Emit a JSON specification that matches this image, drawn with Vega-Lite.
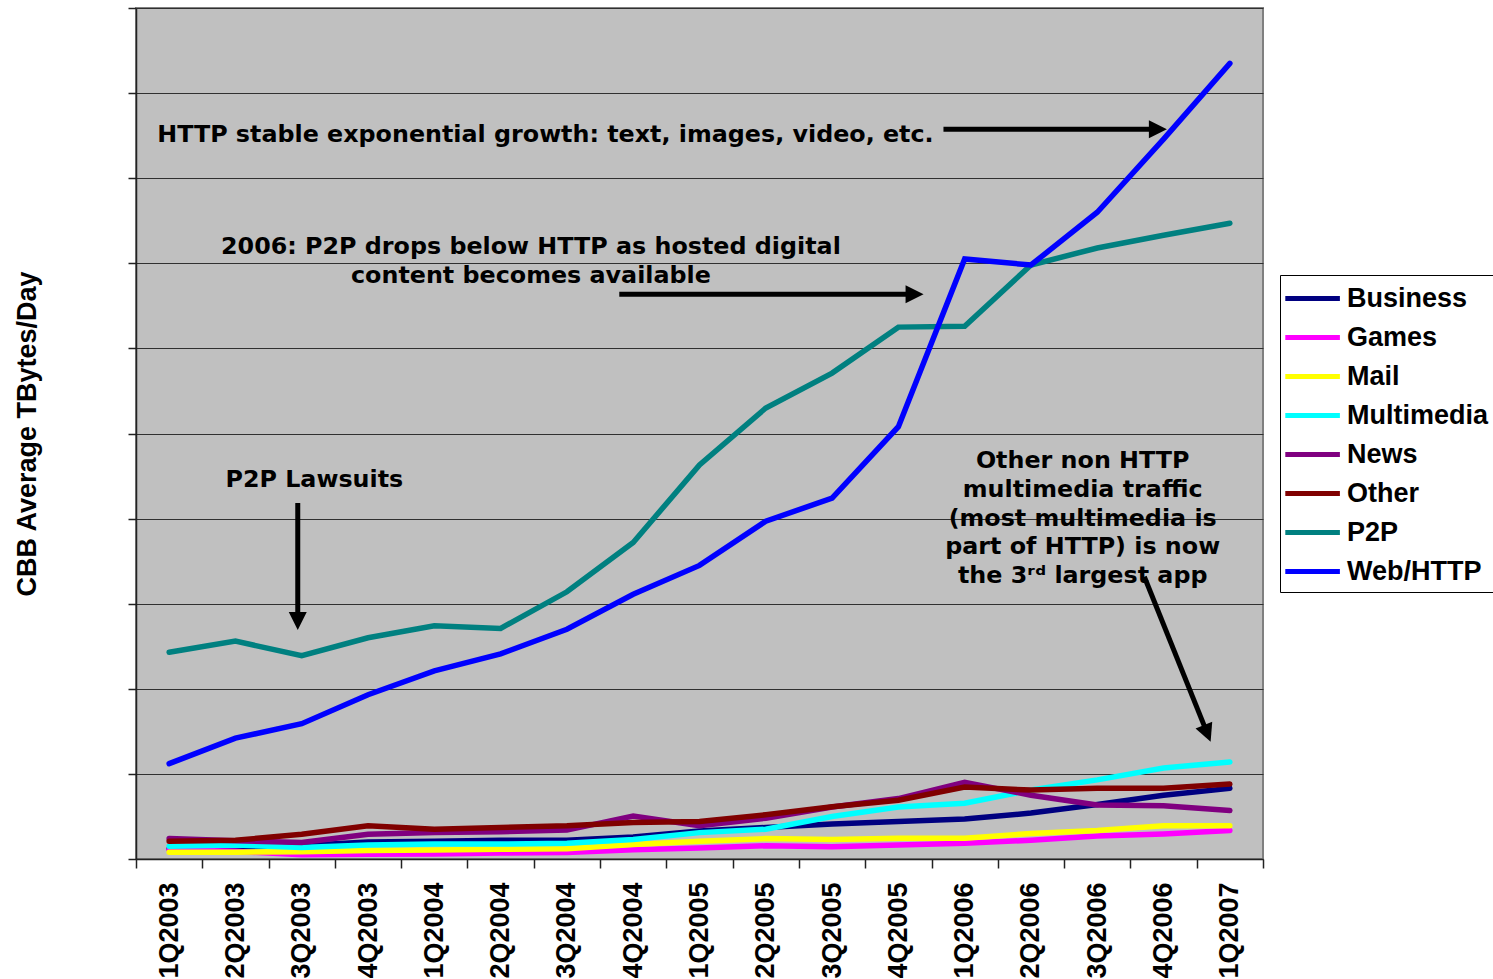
{
  "$schema": "https://vega.github.io/schema/vega-lite/v6.json",
  "width": 1127,
  "height": 851,
  "autosize": {"type": "none"},
  "padding": {"left": 136, "top": 8, "right": 230, "bottom": 120},
  "background": "white",
  "config": {
    "view": {"fill": "#C0C0C0", "stroke": "#808080", "strokeWidth": 2},
    "axis": {"domainColor": "#222222", "domainWidth": 1.5, "tickColor": "#222222", "tickWidth": 1.5, "gridColor": "#303030", "gridWidth": 1}
  },
  "datasets": {
    "traffic": [
      {"quarter": "1Q2003", "t": 0, "app": "Business", "tb": 0.12},
      {"quarter": "2Q2003", "t": 1, "app": "Business", "tb": 0.14},
      {"quarter": "3Q2003", "t": 2, "app": "Business", "tb": 0.16},
      {"quarter": "4Q2003", "t": 3, "app": "Business", "tb": 0.20},
      {"quarter": "1Q2004", "t": 4, "app": "Business", "tb": 0.21},
      {"quarter": "2Q2004", "t": 5, "app": "Business", "tb": 0.22},
      {"quarter": "3Q2004", "t": 6, "app": "Business", "tb": 0.22},
      {"quarter": "4Q2004", "t": 7, "app": "Business", "tb": 0.26},
      {"quarter": "1Q2005", "t": 8, "app": "Business", "tb": 0.33},
      {"quarter": "2Q2005", "t": 9, "app": "Business", "tb": 0.37},
      {"quarter": "3Q2005", "t": 10, "app": "Business", "tb": 0.41},
      {"quarter": "4Q2005", "t": 11, "app": "Business", "tb": 0.44},
      {"quarter": "1Q2006", "t": 12, "app": "Business", "tb": 0.47},
      {"quarter": "2Q2006", "t": 13, "app": "Business", "tb": 0.54},
      {"quarter": "3Q2006", "t": 14, "app": "Business", "tb": 0.64},
      {"quarter": "4Q2006", "t": 15, "app": "Business", "tb": 0.75},
      {"quarter": "1Q2007", "t": 16, "app": "Business", "tb": 0.83},
      {"quarter": "1Q2003", "t": 0, "app": "Games", "tb": 0.11},
      {"quarter": "2Q2003", "t": 1, "app": "Games", "tb": 0.09},
      {"quarter": "3Q2003", "t": 2, "app": "Games", "tb": 0.05},
      {"quarter": "4Q2003", "t": 3, "app": "Games", "tb": 0.055},
      {"quarter": "1Q2004", "t": 4, "app": "Games", "tb": 0.06},
      {"quarter": "2Q2004", "t": 5, "app": "Games", "tb": 0.07},
      {"quarter": "3Q2004", "t": 6, "app": "Games", "tb": 0.075},
      {"quarter": "4Q2004", "t": 7, "app": "Games", "tb": 0.11},
      {"quarter": "1Q2005", "t": 8, "app": "Games", "tb": 0.13},
      {"quarter": "2Q2005", "t": 9, "app": "Games", "tb": 0.155},
      {"quarter": "3Q2005", "t": 10, "app": "Games", "tb": 0.145},
      {"quarter": "4Q2005", "t": 11, "app": "Games", "tb": 0.165},
      {"quarter": "1Q2006", "t": 12, "app": "Games", "tb": 0.185},
      {"quarter": "2Q2006", "t": 13, "app": "Games", "tb": 0.22},
      {"quarter": "3Q2006", "t": 14, "app": "Games", "tb": 0.27},
      {"quarter": "4Q2006", "t": 15, "app": "Games", "tb": 0.295},
      {"quarter": "1Q2007", "t": 16, "app": "Games", "tb": 0.335},
      {"quarter": "1Q2003", "t": 0, "app": "Mail", "tb": 0.08},
      {"quarter": "2Q2003", "t": 1, "app": "Mail", "tb": 0.08},
      {"quarter": "3Q2003", "t": 2, "app": "Mail", "tb": 0.085},
      {"quarter": "4Q2003", "t": 3, "app": "Mail", "tb": 0.10},
      {"quarter": "1Q2004", "t": 4, "app": "Mail", "tb": 0.105},
      {"quarter": "2Q2004", "t": 5, "app": "Mail", "tb": 0.115},
      {"quarter": "3Q2004", "t": 6, "app": "Mail", "tb": 0.12},
      {"quarter": "4Q2004", "t": 7, "app": "Mail", "tb": 0.17},
      {"quarter": "1Q2005", "t": 8, "app": "Mail", "tb": 0.21},
      {"quarter": "2Q2005", "t": 9, "app": "Mail", "tb": 0.24},
      {"quarter": "3Q2005", "t": 10, "app": "Mail", "tb": 0.23},
      {"quarter": "4Q2005", "t": 11, "app": "Mail", "tb": 0.245},
      {"quarter": "1Q2006", "t": 12, "app": "Mail", "tb": 0.245},
      {"quarter": "2Q2006", "t": 13, "app": "Mail", "tb": 0.30},
      {"quarter": "3Q2006", "t": 14, "app": "Mail", "tb": 0.335},
      {"quarter": "4Q2006", "t": 15, "app": "Mail", "tb": 0.39},
      {"quarter": "1Q2007", "t": 16, "app": "Mail", "tb": 0.39},
      {"quarter": "1Q2003", "t": 0, "app": "Multimedia", "tb": 0.15},
      {"quarter": "2Q2003", "t": 1, "app": "Multimedia", "tb": 0.165},
      {"quarter": "3Q2003", "t": 2, "app": "Multimedia", "tb": 0.135},
      {"quarter": "4Q2003", "t": 3, "app": "Multimedia", "tb": 0.165},
      {"quarter": "1Q2004", "t": 4, "app": "Multimedia", "tb": 0.175},
      {"quarter": "2Q2004", "t": 5, "app": "Multimedia", "tb": 0.175},
      {"quarter": "3Q2004", "t": 6, "app": "Multimedia", "tb": 0.185},
      {"quarter": "4Q2004", "t": 7, "app": "Multimedia", "tb": 0.23},
      {"quarter": "1Q2005", "t": 8, "app": "Multimedia", "tb": 0.31},
      {"quarter": "2Q2005", "t": 9, "app": "Multimedia", "tb": 0.35},
      {"quarter": "3Q2005", "t": 10, "app": "Multimedia", "tb": 0.50},
      {"quarter": "4Q2005", "t": 11, "app": "Multimedia", "tb": 0.61},
      {"quarter": "1Q2006", "t": 12, "app": "Multimedia", "tb": 0.655},
      {"quarter": "2Q2006", "t": 13, "app": "Multimedia", "tb": 0.81},
      {"quarter": "3Q2006", "t": 14, "app": "Multimedia", "tb": 0.93},
      {"quarter": "4Q2006", "t": 15, "app": "Multimedia", "tb": 1.07},
      {"quarter": "1Q2007", "t": 16, "app": "Multimedia", "tb": 1.14},
      {"quarter": "1Q2003", "t": 0, "app": "News", "tb": 0.24},
      {"quarter": "2Q2003", "t": 1, "app": "News", "tb": 0.215},
      {"quarter": "3Q2003", "t": 2, "app": "News", "tb": 0.195},
      {"quarter": "4Q2003", "t": 3, "app": "News", "tb": 0.29},
      {"quarter": "1Q2004", "t": 4, "app": "News", "tb": 0.31},
      {"quarter": "2Q2004", "t": 5, "app": "News", "tb": 0.32},
      {"quarter": "3Q2004", "t": 6, "app": "News", "tb": 0.34},
      {"quarter": "4Q2004", "t": 7, "app": "News", "tb": 0.505},
      {"quarter": "1Q2005", "t": 8, "app": "News", "tb": 0.39},
      {"quarter": "2Q2005", "t": 9, "app": "News", "tb": 0.48},
      {"quarter": "3Q2005", "t": 10, "app": "News", "tb": 0.61},
      {"quarter": "4Q2005", "t": 11, "app": "News", "tb": 0.71},
      {"quarter": "1Q2006", "t": 12, "app": "News", "tb": 0.90},
      {"quarter": "2Q2006", "t": 13, "app": "News", "tb": 0.75},
      {"quarter": "3Q2006", "t": 14, "app": "News", "tb": 0.635},
      {"quarter": "4Q2006", "t": 15, "app": "News", "tb": 0.625},
      {"quarter": "1Q2007", "t": 16, "app": "News", "tb": 0.57},
      {"quarter": "1Q2003", "t": 0, "app": "Other", "tb": 0.21},
      {"quarter": "2Q2003", "t": 1, "app": "Other", "tb": 0.22},
      {"quarter": "3Q2003", "t": 2, "app": "Other", "tb": 0.29},
      {"quarter": "4Q2003", "t": 3, "app": "Other", "tb": 0.39},
      {"quarter": "1Q2004", "t": 4, "app": "Other", "tb": 0.35},
      {"quarter": "2Q2004", "t": 5, "app": "Other", "tb": 0.37},
      {"quarter": "3Q2004", "t": 6, "app": "Other", "tb": 0.39},
      {"quarter": "4Q2004", "t": 7, "app": "Other", "tb": 0.43},
      {"quarter": "1Q2005", "t": 8, "app": "Other", "tb": 0.44},
      {"quarter": "2Q2005", "t": 9, "app": "Other", "tb": 0.52},
      {"quarter": "3Q2005", "t": 10, "app": "Other", "tb": 0.615},
      {"quarter": "4Q2005", "t": 11, "app": "Other", "tb": 0.69},
      {"quarter": "1Q2006", "t": 12, "app": "Other", "tb": 0.845},
      {"quarter": "2Q2006", "t": 13, "app": "Other", "tb": 0.81},
      {"quarter": "3Q2006", "t": 14, "app": "Other", "tb": 0.83},
      {"quarter": "4Q2006", "t": 15, "app": "Other", "tb": 0.83},
      {"quarter": "1Q2007", "t": 16, "app": "Other", "tb": 0.88},
      {"quarter": "1Q2003", "t": 0, "app": "P2P", "tb": 2.43},
      {"quarter": "2Q2003", "t": 1, "app": "P2P", "tb": 2.56},
      {"quarter": "3Q2003", "t": 2, "app": "P2P", "tb": 2.39},
      {"quarter": "4Q2003", "t": 3, "app": "P2P", "tb": 2.60},
      {"quarter": "1Q2004", "t": 4, "app": "P2P", "tb": 2.74},
      {"quarter": "2Q2004", "t": 5, "app": "P2P", "tb": 2.71},
      {"quarter": "3Q2004", "t": 6, "app": "P2P", "tb": 3.14},
      {"quarter": "4Q2004", "t": 7, "app": "P2P", "tb": 3.72},
      {"quarter": "1Q2005", "t": 8, "app": "P2P", "tb": 4.63},
      {"quarter": "2Q2005", "t": 9, "app": "P2P", "tb": 5.30},
      {"quarter": "3Q2005", "t": 10, "app": "P2P", "tb": 5.71},
      {"quarter": "4Q2005", "t": 11, "app": "P2P", "tb": 6.25},
      {"quarter": "1Q2006", "t": 12, "app": "P2P", "tb": 6.26},
      {"quarter": "2Q2006", "t": 13, "app": "P2P", "tb": 6.98},
      {"quarter": "3Q2006", "t": 14, "app": "P2P", "tb": 7.18},
      {"quarter": "4Q2006", "t": 15, "app": "P2P", "tb": 7.33},
      {"quarter": "1Q2007", "t": 16, "app": "P2P", "tb": 7.47},
      {"quarter": "1Q2003", "t": 0, "app": "Web/HTTP", "tb": 1.12},
      {"quarter": "2Q2003", "t": 1, "app": "Web/HTTP", "tb": 1.42},
      {"quarter": "3Q2003", "t": 2, "app": "Web/HTTP", "tb": 1.59},
      {"quarter": "4Q2003", "t": 3, "app": "Web/HTTP", "tb": 1.93},
      {"quarter": "1Q2004", "t": 4, "app": "Web/HTTP", "tb": 2.21},
      {"quarter": "2Q2004", "t": 5, "app": "Web/HTTP", "tb": 2.41},
      {"quarter": "3Q2004", "t": 6, "app": "Web/HTTP", "tb": 2.70},
      {"quarter": "4Q2004", "t": 7, "app": "Web/HTTP", "tb": 3.11},
      {"quarter": "1Q2005", "t": 8, "app": "Web/HTTP", "tb": 3.45},
      {"quarter": "2Q2005", "t": 9, "app": "Web/HTTP", "tb": 3.97},
      {"quarter": "3Q2005", "t": 10, "app": "Web/HTTP", "tb": 4.24},
      {"quarter": "4Q2005", "t": 11, "app": "Web/HTTP", "tb": 5.08},
      {"quarter": "1Q2006", "t": 12, "app": "Web/HTTP", "tb": 7.05},
      {"quarter": "2Q2006", "t": 13, "app": "Web/HTTP", "tb": 6.98},
      {"quarter": "3Q2006", "t": 14, "app": "Web/HTTP", "tb": 7.60},
      {"quarter": "4Q2006", "t": 15, "app": "Web/HTTP", "tb": 8.46},
      {"quarter": "1Q2007", "t": 16, "app": "Web/HTTP", "tb": 9.35}
    ],
    "shafts": [
      {"name": "http", "t": 11.68, "tb": 8.575, "t2": 14.88, "tb2": 8.575},
      {"name": "p2pdrop", "t": 6.79, "tb": 6.636, "t2": 11.22, "tb2": 6.636},
      {"name": "lawsuits", "t": 1.94, "tb": 4.183, "t2": 1.94, "tb2": 2.808},
      {"name": "other", "t": 14.71, "tb": 3.317, "t2": 15.66, "tb2": 1.476}
    ],
    "headsRight": [
      {"name": "http", "t": 15.05, "tb": 8.575},
      {"name": "p2pdrop", "t": 11.38, "tb": 6.636}
    ],
    "headsDown": [
      {"name": "lawsuits", "t": 1.94, "tb": 2.691}
    ],
    "headsDiag": [
      {"name": "other", "t": 15.71, "tb": 1.378}
    ],
    "notesLeft": [
      {"t": -0.18, "tb": 8.508, "label": "HTTP stable exponential growth: text, images, video, etc."}
    ],
    "notesCenter": [
      {"t": 5.457, "tb": 7.186, "label": "2006: P2P drops below HTTP as hosted digital\ncontent becomes available"},
      {"t": 2.19, "tb": 4.454, "label": "P2P Lawsuits"},
      {"t": 13.78, "tb": 4.677, "label": "Other non HTTP\nmultimedia traffic\n(most multimedia is\npart of HTTP) is now\nthe 3ʳᵈ largest app"}
    ]
  },
  "layer": [
    {
      "data": {"name": "traffic"},
      "mark": {"type": "line", "strokeWidth": 5.5, "strokeCap": "round"},
      "encoding": {
        "x": {
          "field": "t", "type": "quantitative",
          "scale": {"domain": [-0.5, 16.5], "nice": false, "zero": false},
          "axis": {
            "title": null, "grid": false,
            "values": [-0.5, 0.5, 1.5, 2.5, 3.5, 4.5, 5.5, 6.5, 7.5, 8.5, 9.5, 10.5, 11.5, 12.5, 13.5, 14.5, 15.5, 16.5],
            "labelExpr": "datum.value < 16 ? (((datum.value + 0.5) % 4) + 1) + 'Q' + (2003 + floor((datum.value + 0.5) / 4)) : ''",
            "labelAngle": -90, "labelOffset": 33.15, "labelFlush": false, "labelOverlap": false, "labelBound": false,
            "labelFont": "Liberation Sans", "labelFontSize": 27, "labelFontWeight": "bold", "labelColor": "black",
            "labelPadding": 14, "tickSize": 9
          }
        },
        "y": {
          "field": "tb", "type": "quantitative",
          "scale": {"domain": [0, 10], "nice": false, "zero": false},
          "axis": {
            "title": "CBB Average TBytes/Day",
            "titleFont": "Liberation Sans", "titleFontSize": 27, "titleFontWeight": "bold", "titleColor": "black",
            "titlePadding": 86,
            "values": [0, 1, 2, 3, 4, 5, 6, 7, 8, 9, 10],
            "labels": false, "tickSize": 8, "grid": true
          }
        },
        "color": {
          "field": "app", "type": "nominal",
          "scale": {
            "domain": ["Business", "Games", "Mail", "Multimedia", "News", "Other", "P2P", "Web/HTTP"],
            "range": ["#000080", "#FF00FF", "#FFFF00", "#00FFFF", "#800080", "#800000", "#008080", "#0000FF"]
          },
          "legend": {
            "title": null, "orient": "none", "legendX": 1144, "legendY": 267,
            "symbolType": "M-1.3,0L2.6,0", "symbolStrokeWidth": 5, "symbolSize": 784,
            "labelFont": "Liberation Sans", "labelFontSize": 27, "labelFontWeight": "bold", "labelColor": "black",
            "labelOffset": 27, "padding": 7, "rowPadding": 9,
            "fillColor": "white", "strokeColor": "black", "cornerRadius": 0
          }
        }
      }
    },
    {
      "data": {"name": "shafts"},
      "mark": {"type": "rule", "strokeWidth": 5, "color": "black"},
      "encoding": {
        "x": {"field": "t", "type": "quantitative"},
        "x2": {"field": "t2"},
        "y": {"field": "tb", "type": "quantitative"},
        "y2": {"field": "tb2"}
      }
    },
    {
      "data": {"name": "headsRight"},
      "mark": {"type": "point", "shape": "M0,0L-2,-1L-2,1Z", "size": 324, "filled": true, "color": "black", "opacity": 1, "angle": 0},
      "encoding": {
        "x": {"field": "t", "type": "quantitative"},
        "y": {"field": "tb", "type": "quantitative"}
      }
    },
    {
      "data": {"name": "headsDown"},
      "mark": {"type": "point", "shape": "M0,0L-2,-1L-2,1Z", "size": 324, "filled": true, "color": "black", "opacity": 1, "angle": 90},
      "encoding": {
        "x": {"field": "t", "type": "quantitative"},
        "y": {"field": "tb", "type": "quantitative"}
      }
    },
    {
      "data": {"name": "headsDiag"},
      "mark": {"type": "point", "shape": "M0,0L-2,-1L-2,1Z", "size": 324, "filled": true, "color": "black", "opacity": 1, "angle": 68},
      "encoding": {
        "x": {"field": "t", "type": "quantitative"},
        "y": {"field": "tb", "type": "quantitative"}
      }
    },
    {
      "data": {"name": "notesLeft"},
      "mark": {"type": "text", "align": "left", "baseline": "middle", "font": "DejaVu Sans", "fontWeight": "bold", "fontSize": 23.8, "color": "black"},
      "encoding": {
        "x": {"field": "t", "type": "quantitative"},
        "y": {"field": "tb", "type": "quantitative"},
        "text": {"field": "label"}
      }
    },
    {
      "data": {"name": "notesCenter"},
      "mark": {"type": "text", "align": "center", "baseline": "middle", "lineBreak": "\n", "lineHeight": 28.8, "font": "DejaVu Sans", "fontWeight": "bold", "fontSize": 23.8, "color": "black"},
      "encoding": {
        "x": {"field": "t", "type": "quantitative"},
        "y": {"field": "tb", "type": "quantitative"},
        "text": {"field": "label"}
      }
    }
  ]
}
